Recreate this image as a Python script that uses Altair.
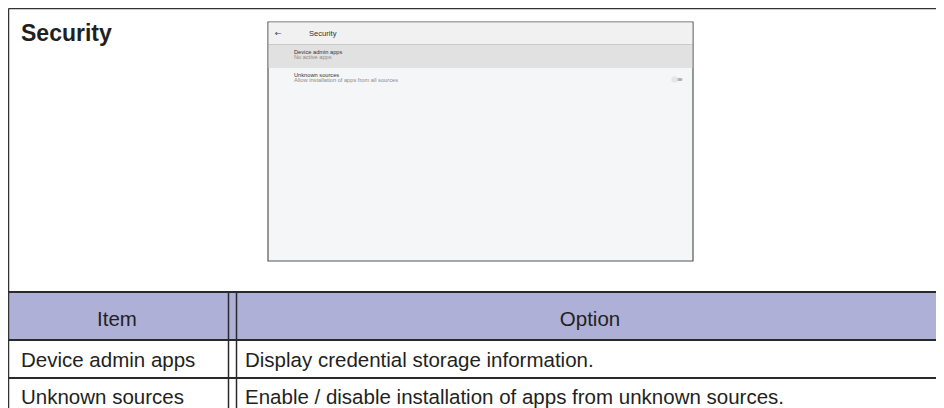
import altair as alt
import pandas as pd

# ---------------- content ----------------
section_title = "Security"
table_headers = ["Item", "Option"]
row_items = ["Device admin apps", "Unknown sources"]
row_options = [
    "Display credential storage information.",
    "Enable / disable installation of apps from unknown sources.",
]
screen_title = "Security"
screen_arrow = "\u2190"
screen_entries = ["Device admin apps", "Unknown sources"]
screen_subtexts = ["No active apps", "Allow installation of apps from all sources"]

# ---------------- layout (page pixel coordinates) ----------------
PLOT_W, PLOT_H = 928, 400
LEFT, RIGHT = 8.5, 8 + PLOT_W
TOP = 8.5
BOTTOM = 420
COL_SPLIT = [228.5, 236.5]
HEAD_TOP, HEAD_BOT = 292, 340
ROW_LINES = [378, 416]
ROW_BASE = [367, 404]
SHOT = dict(x=268, x2=693, y=22, y2=261)

xs = alt.Scale(domain=[8, 8 + PLOT_W], nice=False, zero=False)
ys = alt.Scale(domain=[8, 8 + PLOT_H], nice=False, zero=False, reverse=True)

# rectangles
rects = pd.DataFrame([
    dict(x=SHOT["x"], x2=SHOT["x2"], y=SHOT["y"], y2=SHOT["y2"], fill="#f5f6f8", stroke="#555555", sw=1.2),
    dict(x=SHOT["x"] + 0.6, x2=SHOT["x2"] - 0.6, y=SHOT["y"] + 0.6, y2=44, fill="#f1f1f1", stroke="#f1f1f1", sw=0),
    dict(x=SHOT["x"] + 0.6, x2=SHOT["x2"] - 0.6, y=45, y2=68, fill="#e1e1e1", stroke="#e1e1e1", sw=0),
    dict(x=LEFT, x2=RIGHT, y=HEAD_TOP, y2=HEAD_BOT, fill="#aeb0d8", stroke="#aeb0d8", sw=0),
])

rect_layer = alt.Chart(rects).mark_rect().encode(
    x=alt.X("x:Q", scale=xs, axis=None),
    x2="x2:Q",
    y=alt.Y("y:Q", scale=ys, axis=None),
    y2="y2:Q",
    fill=alt.Fill("fill:N", scale=None),
    stroke=alt.Stroke("stroke:N", scale=None),
    strokeWidth=alt.StrokeWidth("sw:Q", scale=None),
)

# rules
rule_rows = [
    dict(x=LEFT, x2=RIGHT, y=TOP, y2=TOP, c="#333333", w=1.5),
    dict(x=LEFT, x2=LEFT, y=TOP, y2=BOTTOM, c="#333333", w=1.5),
    dict(x=LEFT, x2=RIGHT, y=HEAD_TOP, y2=HEAD_TOP, c="#2a2a2a", w=1.8),
    dict(x=LEFT, x2=RIGHT, y=HEAD_BOT, y2=HEAD_BOT, c="#2a2a2a", w=1.8),
    dict(x=SHOT["x"] + 0.6, x2=SHOT["x2"] - 0.6, y=44.5, y2=44.5, c="#c9c9c9", w=1),
]
for ry in ROW_LINES:
    rule_rows.append(dict(x=LEFT, x2=RIGHT, y=ry, y2=ry, c="#2a2a2a", w=1.8))
for cx in COL_SPLIT:
    rule_rows.append(dict(x=cx, x2=cx, y=HEAD_TOP, y2=BOTTOM, c="#2a2a2a", w=1.5))
rules = pd.DataFrame(rule_rows)

rule_layer = alt.Chart(rules).mark_rule().encode(
    x=alt.X("x:Q", scale=xs, axis=None),
    x2="x2:Q",
    y=alt.Y("y:Q", scale=ys, axis=None),
    y2="y2:Q",
    color=alt.Color("c:N", scale=None),
    strokeWidth=alt.StrokeWidth("w:Q", scale=None),
)

# toggle switch in the screenshot
toggle_track = pd.DataFrame([dict(x=675, x2=681, y=79.5)])
track_layer = alt.Chart(toggle_track).mark_rule(strokeWidth=3, color="#b5b5b5", strokeCap="round").encode(
    x=alt.X("x:Q", scale=xs, axis=None), x2="x2:Q", y=alt.Y("y:Q", scale=ys, axis=None)
)
toggle_thumb = pd.DataFrame([dict(x=674.5, y=79.5)])
thumb_layer = alt.Chart(toggle_thumb).mark_point(filled=True, shape="circle", size=42, color="#e6e6e6", opacity=1).encode(
    x=alt.X("x:Q", scale=xs, axis=None), y=alt.Y("y:Q", scale=ys, axis=None)
)

# texts
left_texts = []
for t, yb in zip(row_items, ROW_BASE):
    left_texts.append(dict(x=21, y=yb, t=t, s=20.5, c="#231f20", f="Liberation Sans"))
for t, yb in zip(row_options, ROW_BASE):
    left_texts.append(dict(x=245, y=yb, t=t, s=20.5, c="#231f20", f="Liberation Sans"))
left_texts.append(dict(x=309, y=35.5, t=screen_title, s=7.6, c="#333333", f="Liberation Sans"))
left_texts.append(dict(x=275, y=35.5, t=screen_arrow, s=8, c="#444444", f="DejaVu Sans"))
for t, yb in zip(screen_entries, [54, 76.7]):
    left_texts.append(dict(x=294, y=yb, t=t, s=5.7, c="#333333", f="Liberation Sans"))
for t, yb in zip(screen_subtexts, [58.8, 81.7]):
    left_texts.append(dict(x=294, y=yb, t=t, s=5.7, c="#8a8a8a", f="Liberation Sans"))
lt = pd.DataFrame(left_texts)

def text_layer(df, align, weight="normal", font="Liberation Sans"):
    return alt.Chart(df).mark_text(align=align, baseline="alphabetic", fontWeight=weight, font=font).encode(
        x=alt.X("x:Q", scale=xs, axis=None),
        y=alt.Y("y:Q", scale=ys, axis=None),
        text="t:N",
        size=alt.Size("s:Q", scale=None),
        color=alt.Color("c:N", scale=None),
    )

lt_main = lt[lt.f == "Liberation Sans"]
lt_sym = lt[lt.f == "DejaVu Sans"]

head = pd.DataFrame([
    dict(x=117, y=326, t=table_headers[0], s=20.5, c="#231f20"),
    dict(x=590, y=326, t=table_headers[1], s=20.5, c="#231f20"),
])
title = pd.DataFrame([dict(x=21, y=41, t=section_title, s=23, c="#231f20")])

chart = alt.layer(
    rect_layer,
    rule_layer,
    track_layer,
    thumb_layer,
    text_layer(lt_main, "left"),
    text_layer(lt_sym, "left", font="DejaVu Sans"),
    text_layer(head, "center"),
    text_layer(title, "left", weight="bold"),
).properties(
    width=PLOT_W, height=PLOT_H, padding=0, autosize=alt.AutoSizeParams(type="none"),
    background="white",
).configure_view(stroke=None)

chart.save("out.html", embed_options={"renderer": "svg", "actions": False})
